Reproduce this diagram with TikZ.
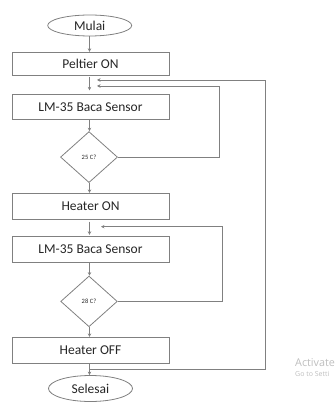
\documentclass[tikz,border=0pt]{standalone}
\usepackage{fontspec}
\setmainfont{Carlito}
\newfontfamily\wmfont{Open Sans}
\usetikzlibrary{shapes.geometric,arrows.meta}
\definecolor{lncol}{HTML}{808080}
\definecolor{txcol}{HTML}{262626}
\definecolor{wmcol}{HTML}{BEBEBE}
\begin{document}
\begin{tikzpicture}[x=1pt,y=-1pt,
  every node/.style={text=txcol},
  procbox/.style={draw=lncol,line width=0.8pt,rectangle,minimum width=157pt,inner sep=0pt,font=\fontsize{13.5}{14}\selectfont},
  termnode/.style={draw=lncol,line width=0.8pt,ellipse,minimum width=84pt,inner sep=0pt,font=\fontsize{13.5}{14}\selectfont},
  decnode/.style={draw=lncol,line width=0.8pt,diamond,inner sep=0pt,minimum width=57pt,minimum height=51pt,font=\fontsize{6.5}{7}\selectfont},
  flow/.style={draw=lncol,line width=0.8pt,-{Stealth[length=3.5pt,width=3.5pt]}},
  plain/.style={draw=lncol,line width=0.8pt}]
\useasboundingbox (0,0) rectangle (335,403);
\node[termnode,minimum height=21pt] (mulai) at (89.7,25.5) {Mulai};
\node[procbox,minimum height=22.7pt] (peltier) at (90.5,63.6) {Peltier ON};
\node[procbox,minimum height=25pt] (lm1) at (90.5,106.8) {LM-35 Baca Sensor};
\node[decnode] (d1) at (89,157.1) {25 C?};
\node[procbox,minimum height=26pt] (hon) at (90.5,206.3) {Heater ON};
\node[procbox,minimum height=25.6pt] (lm2) at (90.5,249.5) {LM-35 Baca Sensor};
\node[decnode,minimum width=56.6pt,minimum height=50.7pt] (d2) at (89,301.4) {28 C?};
\node[procbox,minimum height=26pt] (hoff) at (90.5,350.3) {Heater OFF};
\node[termnode,minimum height=26pt] (selesai) at (90.5,388.5) {Selesai};
% watermark
\node[anchor=base west,inner sep=0pt,text=wmcol,font=\wmfont\fontsize{10.8}{12}\selectfont] (wm1) at (295,366.7) {Activate};
\node[anchor=base west,inner sep=0pt,text=wmcol,font=\wmfont\fontsize{7}{8}\selectfont] (wm2) at (295,376.5) {Go to Setti};
% coordinates
\coordinate (in1) at (97,80);
\coordinate (in2) at (97,86);
\coordinate (in3) at (101,226.7);
\coordinate (j) at (89.5,369);
% main flow
\draw[flow] (mulai.south -| 89.5,0) -- (peltier.north -| 89.5,0);
\draw[flow,shorten <=1.5pt,shorten >=3.5pt] (peltier.south -| 89.5,0) -- (lm1.north -| 89.5,0);
\draw[flow] (lm1.south -| 89.5,0) -- (d1.north -| 89.5,0);
\draw[flow] (d1.south -| 89.5,0) -- (hon.north -| 89.5,0);
\draw[flow,shorten <=2pt,shorten >=1.5pt] (hon.south -| 89.5,0) -- (lm2.north -| 89.5,0);
\draw[flow] (lm2.south -| 89.5,0) -- (d2.north -| 89.5,0);
\draw[flow] (d2.south -| 89.5,0) -- (hoff.north -| 89.5,0);
\draw[flow] (hoff.south -| 89.5,0) -- (selesai.north -| 89.5,0);
% loops
\draw[flow] (d1.east) -- (219,157.1) -- (219,86) -- (in2);
\draw[flow] (d2.east) -- (222.3,301.4) -- (222.3,226.7) -- (in3);
\draw[flow] (j) -- (265,369) -- (265,80) -- (in1);
\end{tikzpicture}
\end{document}
